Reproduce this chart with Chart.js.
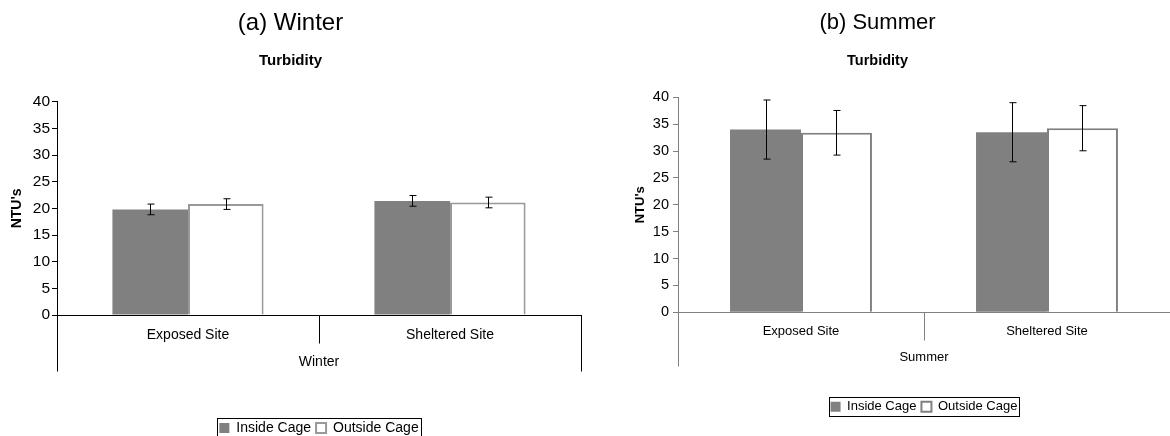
<!DOCTYPE html>
<html>
<head>
<meta charset="utf-8">
<title>Turbidity — Winter / Summer</title>
<script src="https://cdn.jsdelivr.net/npm/chart.js@4.4.1/dist/chart.umd.min.js"></script>
<style>
  html, body { margin: 0; padding: 0; background: #fff; overflow: hidden; }
  body { width: 1170px; height: 436px; position: relative; }
  canvas { position: absolute; top: 0; }
  #winterChart { left: 0; }
  #summerChart { left: 585px; }
</style>
</head>
<body>
<canvas id="winterChart" width="585" height="436"></canvas>
<canvas id="summerChart" width="632" height="436"></canvas>
<script>
// ── Data ────────────────────────────────────────────────────

const sites       = ['Exposed Site', 'Sheltered Site'];
const seriesNames = ['Inside Cage', 'Outside Cage'];
const yMin = 0, yMax = 40, yStep = 5;

const winterInside     = [19.8, 21.4];
const winterInsideErr  = [1.0, 1.0];
const winterOutside    = [20.8, 21.1];
const winterOutsideErr = [1.0, 1.0];

const summerInside     = [34.0, 33.5];
const summerInsideErr  = [5.5, 5.5];
const summerOutside    = [33.4, 34.25];
const summerOutsideErr = [4.15, 4.2];

const FONT = "'Liberation Sans', Arial, sans-serif";

// ── Plugins ─────────────────────────────────────────────────

// error bars: dataset.errors holds +/- values
const errorBarPlugin = {
  id: 'errorBars',
  afterDatasetsDraw(chart) {
    const { ctx, scales: { y } } = chart;
    ctx.save();
    ctx.strokeStyle = '#000';
    ctx.lineWidth = 1;
    chart.data.datasets.forEach((ds, i) => {
      if (!ds.errors) return;
      chart.getDatasetMeta(i).data.forEach((bar, j) => {
        const v = ds.data[j], e = ds.errors[j];
        const x  = Math.round(bar.x) + 0.5;
        const hi = y.getPixelForValue(v + e);
        const lo = y.getPixelForValue(v - e);
        ctx.beginPath();
        ctx.moveTo(x, hi); ctx.lineTo(x, lo);
        ctx.moveTo(x - 3, hi); ctx.lineTo(x + 4, hi);
        ctx.moveTo(x - 3, lo); ctx.lineTo(x + 4, lo);
        ctx.stroke();
      });
    });
    ctx.restore();
  }
};

// two-level category axis (site / season) like the spreadsheet one
const groupAxisPlugin = {
  id: 'groupAxis',
  afterDraw(chart, args, opts) {
    const { ctx, chartArea: area, scales: { x } } = chart;
    const base = Math.round(area.bottom) + 0.5;
    ctx.save();
    ctx.strokeStyle = opts.color;
    ctx.lineWidth = 1;
    ctx.beginPath();
    [area.left, area.right].forEach(px => {
      const xx = Math.round(px) + 0.5;
      ctx.moveTo(xx, base); ctx.lineTo(xx, base + opts.edgeLength);
    });
    for (let i = 0; i < chart.data.labels.length - 1; i++) {
      const xx = Math.round((x.getPixelForValue(i) + x.getPixelForValue(i + 1)) / 2) + 0.5;
      ctx.moveTo(xx, base); ctx.lineTo(xx, base + opts.midLength);
    }
    ctx.stroke();
    ctx.fillStyle = '#000';
    ctx.font = opts.font;
    ctx.textAlign = 'center';
    ctx.textBaseline = 'middle';
    ctx.fillText(opts.label, (area.left + area.right) / 2, base + opts.labelOffset);
    ctx.restore();
  }
};

// thin frame round the legend
const legendFramePlugin = {
  id: 'legendFrame',
  afterDraw(chart) {
    const boxes = chart.legend && chart.legend.legendHitBoxes;
    if (!boxes || !boxes.length) return;
    const first = boxes[0], last = boxes[boxes.length - 1];
    const l = Math.round(first.left - 2) + 0.5;
    const r = Math.round(last.left + last.width + 2) + 0.5;
    const t = Math.round(first.top - 3) + 0.5;
    const b = Math.round(first.top + first.height + 3) + 0.5;
    const { ctx } = chart;
    ctx.save();
    ctx.strokeStyle = '#000';
    ctx.lineWidth = 1;
    ctx.strokeRect(l, t, r - l, b - t);
    ctx.restore();
  }
};

// ── Chart builder ───────────────────────────────────────────

function buildTurbidityChart(canvasId, c) {
  const canvas = document.getElementById(canvasId);
  return new Chart(canvas, {
    type: 'bar',
    data: {
      labels: sites,
      datasets: [{
        label: seriesNames[0],
        data: c.inside,
        errors: c.insideErr,
        backgroundColor: '#808080',
        borderWidth: 0,
        categoryPercentage: 0.577,
        barPercentage: 1.0
      }, {
        label: seriesNames[1],
        data: c.outside,
        errors: c.outsideErr,
        backgroundColor: '#ffffff',
        borderColor: c.outsideBorder,
        borderWidth: 2,
        categoryPercentage: 0.577,
        barPercentage: 1.0
      }]
    },
    options: {
      responsive: false,
      animation: false,
      events: [],
      layout: { padding: { left: 0, right: c.padRight, top: 0, bottom: c.padBottom } },
      plugins: {
        title: {
          display: true,
          text: c.caption,
          color: '#000',
          font: { family: FONT, size: c.captionSize, weight: 'normal' },
          padding: { top: c.captionTop, bottom: c.captionBottom }
        },
        subtitle: {
          display: true,
          text: 'Turbidity',
          color: '#000',
          font: { family: FONT, size: c.titleSize, weight: 'bold' },
          padding: { top: 0, bottom: c.titleBottom }
        },
        legend: {
          position: 'bottom',
          fullSize: false,
          maxHeight: c.legendHeight,
          labels: {
            color: '#000',
            boxWidth: 10,
            boxHeight: 10,
            padding: 5,
            font: { family: FONT, size: c.legendSize }
          }
        },
        tooltip: { enabled: false },
        groupAxis: {
          label: c.group,
          color: c.axisColor,
          font: c.groupSize + 'px ' + FONT,
          midLength: 28,
          edgeLength: c.edgeLength,
          labelOffset: c.groupOffset
        }
      },
      scales: {
        x: {
          afterFit: s => { s.height = c.xHeight; },
          grid: { display: false, drawTicks: false },
          border: { color: c.axisColor, width: 1 },
          ticks: { color: '#000', padding: c.xPad, font: { family: FONT, size: c.xTickSize } }
        },
        y: {
          min: yMin,
          max: yMax,
          afterFit: s => { s.width = c.yWidth; },
          grid: { drawOnChartArea: false, tickLength: 5, color: c.axisColor },
          border: { color: c.axisColor, width: 1 },
          ticks: { stepSize: yStep, color: '#000', padding: c.yPad, font: { family: FONT, size: c.yTickSize } },
          title: {
            display: true,
            text: "NTU's",
            color: '#000',
            font: { family: FONT, size: c.yTitleSize, weight: 'bold' },
            padding: { top: c.yTitleTop, bottom: 0 }
          }
        }
      }
    },
    plugins: [errorBarPlugin, groupAxisPlugin, legendFramePlugin]
  });
}

buildTurbidityChart('winterChart', {
  caption: '(a) Winter', group: 'Winter',
  inside: winterInside, insideErr: winterInsideErr,
  outside: winterOutside, outsideErr: winterOutsideErr,
  outsideBorder: '#999999', axisColor: '#000000',
  captionSize: 24, captionTop: 8.9, captionBottom: 13.8,
  titleSize: 15, titleBottom: 32.2,
  padRight: 4, padBottom: 0, legendHeight: 20, legendSize: 14,
  xHeight: 101, xPad: 11.6, xTickSize: 14,
  yWidth: 57, yPad: 2, yTickSize: 15.5, yTitleSize: 14, yTitleTop: 8.6,
  groupSize: 14, edgeLength: 56, groupOffset: 46.7
});

buildTurbidityChart('summerChart', {
  caption: '(b) Summer', group: 'Summer',
  inside: summerInside, insideErr: summerInsideErr,
  outside: summerOutside, outsideErr: summerOutsideErr,
  outsideBorder: '#808080', axisColor: '#808080',
  captionSize: 22, captionTop: 10.1, captionBottom: 15.3,
  titleSize: 14.5, titleBottom: 28.1,
  padRight: 47, padBottom: 20.8, legendHeight: 20, legendSize: 13,
  xHeight: 82.9, xPad: 11.6, xTickSize: 13,
  yWidth: 93, yPad: 4, yTickSize: 14.5, yTitleSize: 13, yTitleTop: 47.2,
  groupSize: 13, edgeLength: 54, groupOffset: 45.4
});
</script>
</body>
</html>
